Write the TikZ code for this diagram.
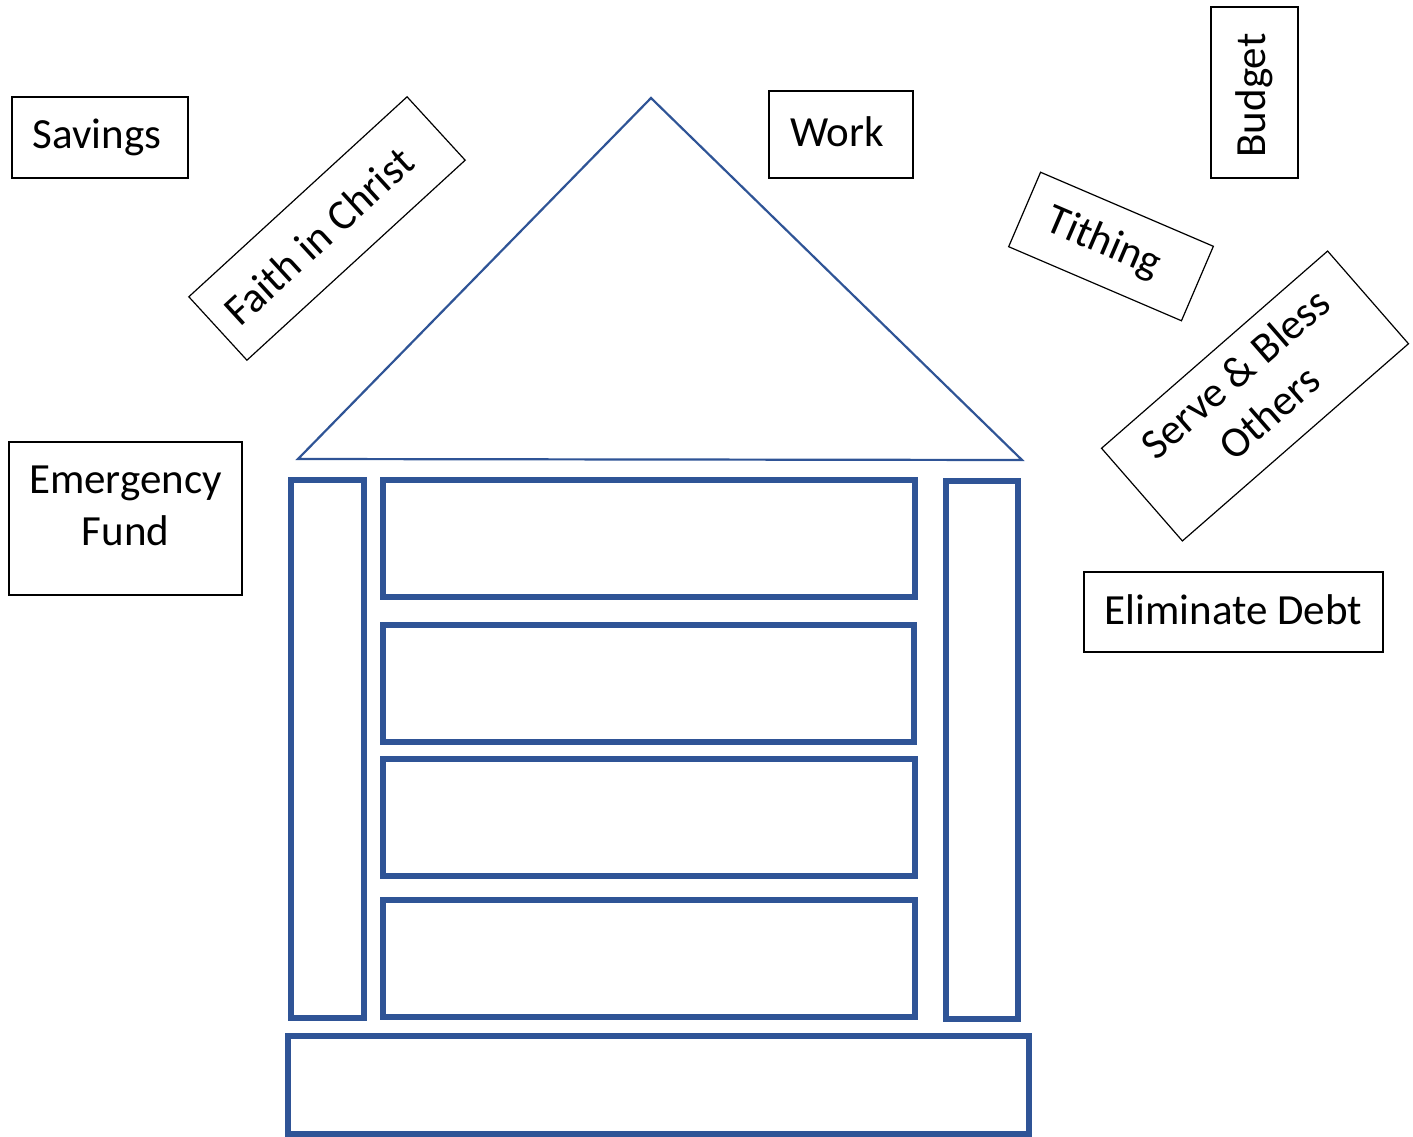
\documentclass[tikz,border=0pt]{standalone}
\usepackage{fontspec}
\setmainfont{Carlito}
\definecolor{houseblue}{HTML}{2F5496}
\newcommand{\liftby}[2]{\raisebox{#1}[\height][\depth]{#2}}
\begin{document}
\begin{tikzpicture}[x=1pt,y=-1pt,
  lbl/.style={draw=black,line width=1.2pt,fill=white,inner sep=0pt,align=center,
    font=\fontsize{43}{52}\selectfont},
  part/.style={draw=houseblue,line width=6pt},
]
\useasboundingbox (0,0) rectangle (1413,1137);
% roof
\draw[draw=houseblue,line width=2.2pt,line join=miter] (651,98) -- (1022,460) -- (298,459) -- cycle;
% pillars
\draw[part] (291,480) rectangle (364,1018);
\draw[part] (945.5,481) rectangle (1017.5,1018.5);
% floors
\draw[part] (383,479.5) rectangle (915,597);
\draw[part] (383,625) rectangle (914,742);
\draw[part] (383,759) rectangle (915,876);
\draw[part] (383,900) rectangle (915,1017);
% base
\draw[part] (288,1036) rectangle (1029,1134);
% labels
\node[lbl,minimum width=176pt,minimum height=81pt] (savings) at (100,137.5) {\hspace*{-6pt}Savings};
\node[lbl,minimum width=296pt,minimum height=86pt,rotate=42.5] (faith) at (327,228.5) {\hspace*{-22pt}Faith in Christ};
\node[lbl,minimum width=144pt,minimum height=87pt] (work) at (841,134.5) {\hspace*{-8pt}\liftby{3pt}{Work}};
\node[lbl,minimum width=171pt,minimum height=87pt,rotate=90] (budget) at (1254.5,92.5) {\hspace*{-6pt}Budget};
\node[lbl,minimum width=188pt,minimum height=81pt,rotate=-23.2] (tithing) at (1111,246.5) {\hspace*{-16pt}Tithing};
\node[lbl,minimum width=300pt,minimum height=123pt,rotate=41.1] (serve) at (1255,396) {\begin{tabular}{@{}c@{}}Serve \& Bless\\Others\end{tabular}};
\node[lbl,minimum width=233pt,minimum height=153pt] (emergency) at (125.5,518.5) {\liftby{9pt}{\begin{tabular}{@{}c@{}}Emergency\\Fund\end{tabular}}};
\node[lbl,minimum width=299pt,minimum height=80pt] (debt) at (1233.5,612) {\liftby{2pt}{Eliminate Debt}};
\end{tikzpicture}
\end{document}
